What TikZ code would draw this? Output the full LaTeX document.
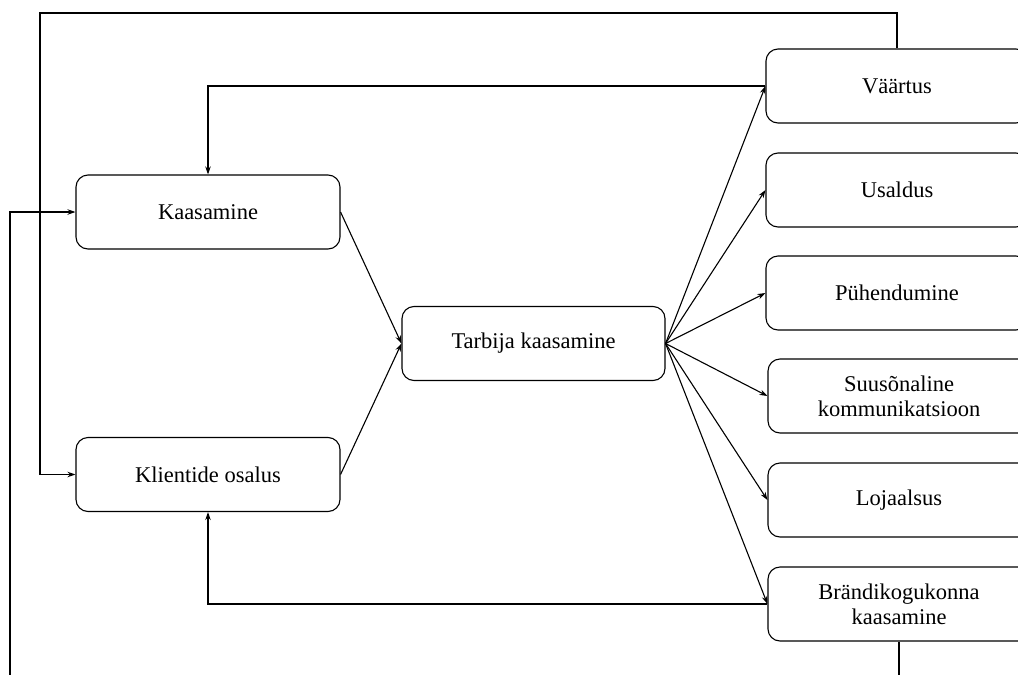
\documentclass[tikz,border=0pt]{standalone}
\usepackage{fontspec}
\setmainfont{Liberation Serif}
\usetikzlibrary{arrows.meta}
\begin{document}
\begin{tikzpicture}[x=1pt,y=-1pt,
  box/.style={draw=black, line width=1.1pt, rounded corners=12pt, align=center,
    font=\fontsize{22.5}{25}\selectfont, inner sep=0pt},
  lbox/.style={box, minimum width=264pt, minimum height=74pt},
  rbox/.style={box, minimum width=262pt, minimum height=74pt},
  conn/.style={draw=black, line width=1.1pt},
  arr/.style={conn, -{Stealth[length=8pt,width=5.5pt]}}]
\clip (0,0) rectangle (1018,675);
\fill[white] (0,0) rectangle (1018,675);
\node[lbox] (kaas) at (208,212) {Kaasamine};
\node[lbox] (klie) at (208,474.5) {Klientide osalus};
\node[lbox, minimum width=263pt] (tarb) at (533.5,343.5) {Tarbija kaasamine};
\node[rbox] (vaar) at (897,86) {Väärtus};
\node[rbox] (usal) at (897,190) {Usaldus};
\node[rbox] (pueh) at (897,293) {Pühendumine};
\node[rbox] (suus) at (899,396) {Suusõnaline\\kommunikatsioon};
\node[rbox] (loja) at (899,500) {Lojaalsus};
\node[rbox] (bran) at (899,604) {Brändikogukonna\\kaasamine};
\coordinate (tl) at (40,13);
\coordinate (bl) at (10,700);
\draw[arr] (kaas.east) -- (tarb.west);
\draw[arr] (klie.east) -- (tarb.west);
\foreach \t in {vaar,usal,pueh,suus,loja,bran}
  \draw[arr] (tarb.east) -- (\t.west);
\draw[arr] (vaar.west) -| (kaas.north);
\draw[arr] (bran.west) -| (klie.south);
\draw[arr] (vaar.north) |- (tl) |- (klie.west);
\draw[arr] (bran.south) |- (bl) |- (kaas.west);
\end{tikzpicture}
\end{document}
